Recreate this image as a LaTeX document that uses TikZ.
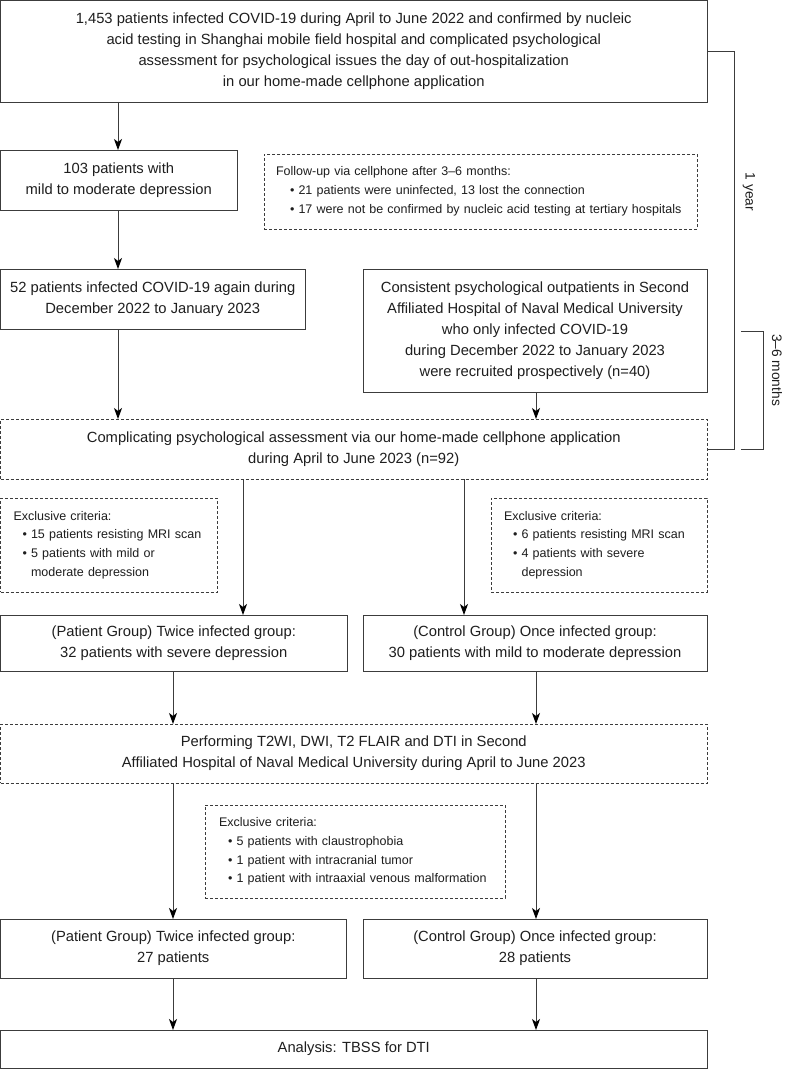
\documentclass[tikz,border=0pt]{standalone}
\usepackage{fontspec}
\setmainfont{Liberation Sans}
\usetikzlibrary{arrows.meta}
\definecolor{linec}{RGB}{60,60,60}
\definecolor{txtc}{RGB}{30,30,30}
\newcommand\mainf{\fontsize{14.75}{21}\selectfont}
\newcommand\smallf{\fontsize{12.5}{18.8}\selectfont}
\newcommand\lblf{\fontsize{13.75}{16}\selectfont}
\begin{document}
\begin{tikzpicture}[x=1pt,y=-1pt,
 box/.style={draw=linec, line width=0.9pt, inner sep=0pt, outer sep=0pt, anchor=north west, align=center, font=\mainf, text=txtc},
 dbox/.style={box, dash pattern=on 3pt off 2pt},
 lbox/.style={dbox, align=left, font=\smallf},
 arr/.style={draw=linec, line width=0.9pt, -{Stealth[length=11pt,width=8pt,inset=3pt,color=black]}},
 brk/.style={draw=linec, line width=0.9pt},
 lbl/.style={font=\lblf, text=txtc, rotate=-90, inner sep=0pt}
]
\useasboundingbox[fill=white] (0,0) rectangle (790,1070);

\node[box, minimum width=706.5pt, minimum height=101.5pt] (top) at (0.5,0.5) {1,453 patients infected COVID-19 during April to June 2022 and confirmed by nucleic\\acid testing in Shanghai mobile field hospital and complicated psychological\\assessment for psychological issues the day of out-hospitalization\\in our home-made cellphone application};

\node[box, minimum width=236.5pt, minimum height=60pt] (box2) at (0.5,150) {103 patients with\\mild to moderate depression};

\node[lbox, minimum width=433pt, minimum height=75pt, inner xsep=12pt, text width=409pt] (follow) at (264,154) {Follow-up via cellphone after 3–6 months:\\
\hspace*{14pt}• 21 patients were uninfected, 13 lost the connection\\
\hspace*{14pt}• 17 were not be confirmed by nucleic acid testing at tertiary hospitals};

\node[box, minimum width=304.5pt, minimum height=60pt] (box3) at (0.5,269) {52 patients infected COVID-19 again during\\December 2022 to January 2023};

\node[box, minimum width=344pt, minimum height=123pt] (box4) at (363,269) {Consistent psychological outpatients in Second\\Affiliated Hospital of Naval Medical University\\who only infected COVID-19\\during December 2022 to January 2023\\were recruited prospectively (n=40)};

\node[dbox, minimum width=706.5pt, minimum height=60pt] (box5) at (0.5,419) {Complicating psychological assessment via our home-made cellphone application\\during April to June 2023 (n=92)};

\node[lbox, minimum width=216.5pt, minimum height=94pt, inner xsep=13pt, text width=190.5pt] (exL) at (0.5,498) {Exclusive criteria:\\
\hspace*{9pt}• 15 patients resisting MRI scan\\
\hspace*{9pt}• 5 patients with mild or\\
\hspace*{9pt}\phantom{• }moderate depression};

\node[lbox, minimum width=216pt, minimum height=94pt, inner xsep=13pt, text width=190pt] (exR) at (491,498) {Exclusive criteria:\\
\hspace*{9pt}• 6 patients resisting MRI scan\\
\hspace*{9pt}• 4 patients with severe\\
\hspace*{9pt}\phantom{• }depression};

\node[box, minimum width=346.5pt, minimum height=56pt] (box6) at (0.5,615) {(Patient Group) Twice infected group:\\32 patients with severe depression};

\node[box, minimum width=344pt, minimum height=56pt] (box7) at (363,615) {(Control Group) Once infected group:\\30 patients with mild to moderate depression};

\node[dbox, minimum width=706.5pt, minimum height=59pt] (box8) at (0.5,724) {Performing T2WI, DWI, T2 FLAIR and DTI in Second\\Affiliated Hospital of Naval Medical University during April to June 2023};

\node[lbox, minimum width=300pt, minimum height=93pt, inner xsep=14pt, text width=272pt] (exM) at (205,805) {Exclusive criteria:\\
\hspace*{9pt}• 5 patients with claustrophobia\\
\hspace*{9pt}• 1 patient with intracranial tumor\\
\hspace*{9pt}• 1 patient with intraaxial venous malformation};

\node[box, minimum width=345.5pt, minimum height=59pt] (box9) at (0.5,919) {(Patient Group) Twice infected group:\\27 patients};

\node[box, minimum width=344pt, minimum height=59pt] (box10) at (363,919) {(Control Group) Once infected group:\\28 patients};

\node[box, minimum width=706.5pt, minimum height=38pt] (final) at (0.5,1030) {Analysis: TBSS for DTI};

% brackets
\coordinate (b1) at (734,0);
\draw[brk] (top.east) -- (top.east -| b1) -- (box5.east -| b1) -- (box5.east);
\coordinate (s1) at (741,331);
\coordinate (s2) at (763,331);
\coordinate (s3) at (763,449);
\coordinate (s4) at (741,449);
\draw[brk] (s1) -- (s2) -- (s3) -- (s4);
\node[lbl] (ly) at (749,192) {1 year};
\node[lbl] (lm) at (777,370) {3–6 months};

% arrows
\coordinate (xa) at (118,0);
\coordinate (xb) at (536,0);
\coordinate (xc) at (243,0);
\coordinate (xd) at (464,0);
\coordinate (xe) at (173,0);
\draw[arr] (top.south -| xa) -- (box2.north -| xa);
\draw[arr] (box2.south -| xa) -- (box3.north -| xa);
\draw[arr] (box3.south -| xa) -- (box5.north -| xa);
\draw[arr] (box4.south -| xb) -- (box5.north -| xb);
\draw[arr] (box5.south -| xc) -- (box6.north -| xc);
\draw[arr] (box5.south -| xd) -- (box7.north -| xd);
\draw[arr] (box6.south -| xe) -- (box8.north -| xe);
\draw[arr] (box7.south -| xb) -- (box8.north -| xb);
\draw[arr] (box8.south -| xe) -- (box9.north -| xe);
\draw[arr] (box8.south -| xb) -- (box10.north -| xb);
\draw[arr] (box9.south -| xe) -- (final.north -| xe);
\draw[arr] (box10.south -| xb) -- (final.north -| xb);
\end{tikzpicture}
\end{document}
